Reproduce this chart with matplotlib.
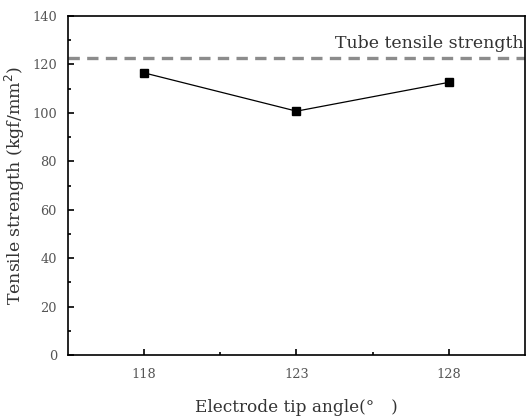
import matplotlib
matplotlib.use("Agg")
import matplotlib.pyplot as plt
from matplotlib.ticker import MultipleLocator, FixedLocator

angles = [118, 123, 128]
strength = [116.5, 100.7, 112.6]
tube_strength = 122.7
xticks = [118, 123, 128]
xminor = [120.5, 125.5]
yticks = [0, 20, 40, 60, 80, 100, 120, 140]

plt.rcParams['font.family'] = ['DejaVu Serif']

fig = plt.figure(figsize=(5.26, 4.17), dpi=100)
ax = fig.add_axes([68/526, 1 - 355/417, (525-68)/526, (355-16)/417])

ax.axhline(tube_strength, color='#8c8c8c', lw=2.4, ls=(0, (3.4, 2.2)), zorder=1)
ax.plot(angles, strength, color='black', lw=0.9, marker='s', ms=6,
        mfc='black', mec='black', zorder=3)
ax.text(130.45, tube_strength + 2.6, 'Tube tensile strength', ha='right', va='bottom',
        fontsize=12.5, color='#333333')

ax.set_xlim(115.5, 130.5)
ax.set_ylim(0, 140)
ax.set_xticks(xticks)
ax.set_yticks(yticks)
ax.xaxis.set_minor_locator(FixedLocator(xminor))
ax.yaxis.set_minor_locator(MultipleLocator(10))
ax.tick_params(which='both', direction='in', top=False, right=False,
               labelsize=9.3, labelcolor='#555555', width=1.2)
ax.tick_params(which='major', length=4)
ax.tick_params(which='minor', length=2.5)
ax.tick_params(axis='x', pad=9)
ax.tick_params(axis='y', pad=8)
for s in ax.spines.values():
    s.set_linewidth(1.2)

ax.set_xlabel('Electrode tip angle(°\u2003)', fontsize=12.2, color='#333333', labelpad=13)
ax.set_ylabel('Tensile strength (kgf/mm$^2$)', fontsize=12.5, color='#333333', labelpad=4)

fig.savefig('out.png', dpi=100)
